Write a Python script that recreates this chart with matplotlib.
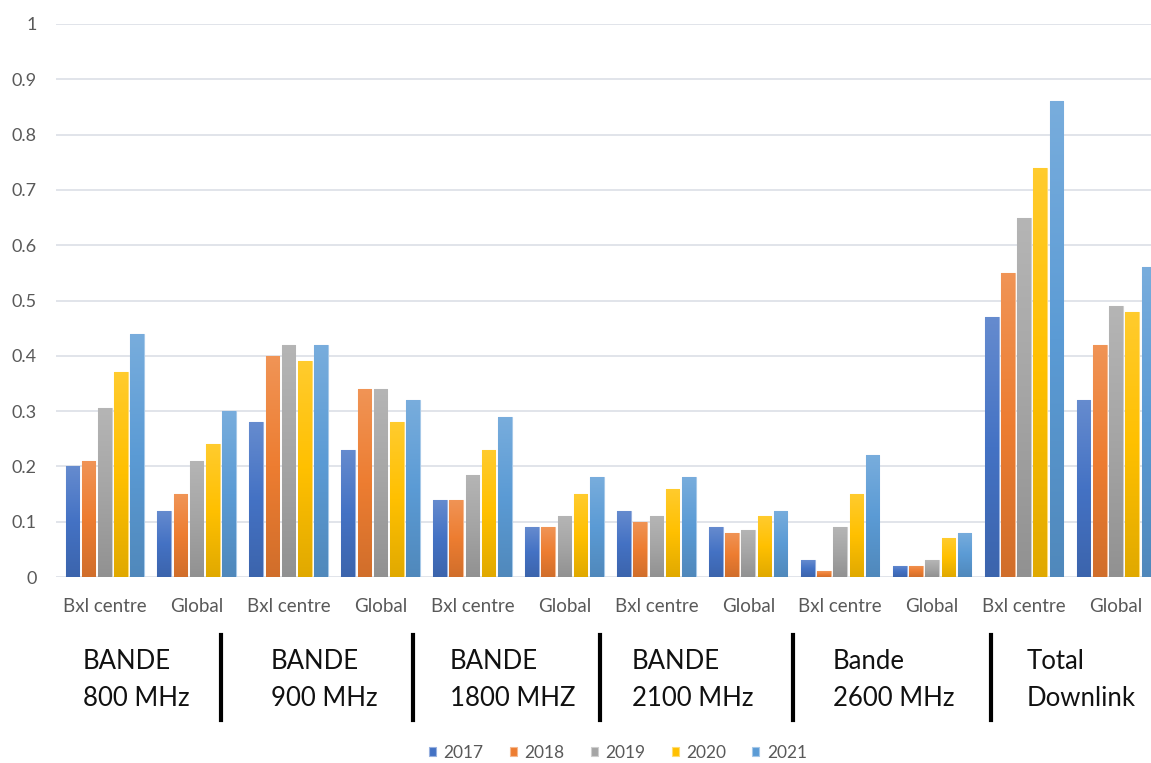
import numpy as np
import matplotlib
matplotlib.use("Agg")
import matplotlib.pyplot as plt
from matplotlib.colors import LinearSegmentedColormap, to_rgb

# data: 6 bands x (Bxl centre, Global), one series per year
categories = ["Bxl centre", "Global"] * 6
bands = ["BANDE\n800 MHz", "BANDE\n900 MHz", "BANDE\n1800 MHZ",
         "BANDE\n2100 MHz", "Bande\n2600 MHz", "Total\nDownlink"]
years = ["2017", "2018", "2019", "2020", "2021"]
v2017 = [0.20, 0.12, 0.28, 0.23, 0.14, 0.09, 0.12, 0.09, 0.03, 0.02, 0.47, 0.32]
v2018 = [0.21, 0.15, 0.40, 0.34, 0.14, 0.09, 0.10, 0.08, 0.01, 0.02, 0.55, 0.42]
v2019 = [0.305, 0.21, 0.42, 0.34, 0.185, 0.11, 0.11, 0.085, 0.09, 0.03, 0.65, 0.49]
v2020 = [0.37, 0.24, 0.39, 0.28, 0.23, 0.15, 0.16, 0.11, 0.15, 0.07, 0.74, 0.48]
v2021 = [0.44, 0.30, 0.42, 0.32, 0.29, 0.18, 0.18, 0.12, 0.22, 0.08, 0.86, 0.56]
series = [v2017, v2018, v2019, v2020, v2021]
colors = ["#4472C4", "#ED7D31", "#A5A5A5", "#FFC000", "#5B9BD5"]

plt.rcParams['font.family'] = ['Lato', 'DejaVu Sans']

W, H = 1151, 763
fig = plt.figure(figsize=(W / 100, H / 100), dpi=100)
ax = fig.add_axes([56 / W, (H - 577) / H, 1106 / W, 553 / H])

x = np.arange(len(categories))
pitch = 0.176
width = 0.148


def shade(c, f):
    r, g, b = to_rgb(c)
    if f > 0:
        return (r + (1 - r) * f, g + (1 - g) * f, b + (1 - b) * f)
    return (r * (1 + f), g * (1 + f), b * (1 + f))


grad = np.linspace(0, 1, 256).reshape(-1, 1)
for i, (vals, col) in enumerate(zip(series, colors)):
    cmap = LinearSegmentedColormap.from_list(
        "g%d" % i, [shade(col, -0.12), col, shade(col, 0.18)])
    bars = ax.bar(x + (i - 2) * pitch, vals, width, color=col,
                  edgecolor=shade(col, 0.45), linewidth=0.8, zorder=3,
                  label=years[i])
    # vertical gradient inside each bar, lighter at the top
    for b in bars:
        x0, y0 = b.get_x(), b.get_y()
        im = ax.imshow(grad, cmap=cmap, origin="lower", aspect="auto",
                       extent=(x0, x0 + b.get_width(), y0, y0 + b.get_height()),
                       zorder=3.5)
        im.set_clip_path(b)

ax.set_xlim(-0.53, 11.5)
ax.set_ylim(0, 1)
ax.set_yticks(np.arange(0, 1.01, 0.1))
ax.set_yticklabels(["0", "0.1", "0.2", "0.3", "0.4", "0.5", "0.6",
                    "0.7", "0.8", "0.9", "1"])
ax.set_xticks(x)
ax.set_xticklabels(categories)
ax.tick_params(axis="y", length=0, pad=14, labelsize=13, labelcolor="#595959")
ax.tick_params(axis="x", length=0, pad=15, labelsize=13.5, labelcolor="#595959")
ax.grid(axis="y", color="#E1E4EA", linewidth=1.4, zorder=0)
for s in ax.spines.values():
    s.set_visible(False)

# band captions under the category labels, with separators
band_x = [83, 271, 450, 632, 833, 1027]
for bx, txt in zip(band_x, bands):
    fig.text(bx / W, 1 - 680 / H, txt, fontsize=18.5, color="#111111",
             va="center", ha="left", linespacing=1.6)
for sx in [221, 413, 600, 793, 991]:
    fig.add_artist(plt.Line2D([sx / W, sx / W], [1 - 635 / H, 1 - 720 / H],
                              color="black", linewidth=3))

fig.legend(loc="center", bbox_to_anchor=(618 / W, 1 - 753 / H), ncol=5,
           frameon=False, fontsize=12.5, handlelength=0.4, handleheight=0.4,
           handletextpad=0.45, columnspacing=1.5, labelcolor="#595959")

fig.savefig("out.png", dpi=100)
